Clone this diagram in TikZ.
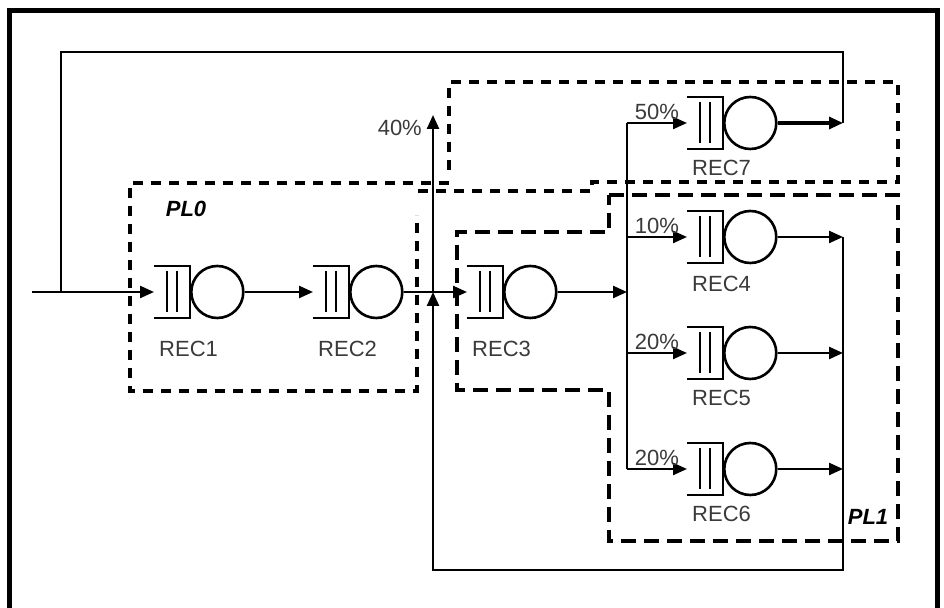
\documentclass[tikz,border=0pt]{standalone}
\usepackage{fontspec}
\setsansfont{Liberation Sans}
\usetikzlibrary{arrows.meta, positioning}
\definecolor{cgrey}{HTML}{3A3A3A}
\tikzset{
  every picture/.style={font=\sffamily\fontsize{11}{13}\selectfont, line width=1.2pt},
  queue/.style={minimum width=18pt, minimum height=26pt, inner sep=0pt, outer sep=0pt},
  server/.style={circle, draw, line width=1.3pt, minimum size=26pt, inner sep=0pt},
  arrow/.style={-{Triangle[length=7pt, width=6pt]}, line width=1.2pt},
  lbl/.style={text=cgrey, inner sep=1pt},
  pct/.style={text=cgrey, inner sep=1pt},
  plabel/.style={font=\sffamily\bfseries\itshape\fontsize{11}{13}\selectfont, inner sep=1pt},
  region/.style={line width=1.6pt, dash pattern=on 5pt off 4pt},
  regionlong/.style={line width=1.6pt, dash pattern=on 7.5pt off 4pt},
}

\begin{document}
\begin{tikzpicture}[x=0.5pt, y=-0.5pt]
  \useasboundingbox (0,0) rectangle (944,608);
  \draw[line width=2.5pt] (9,11) rectangle (937,640);
  % queues and servers
  \node[queue] (q1) at (172,292) {};
  \node[queue] (q2) at (331,292) {};
  \node[queue] (q3) at (485,292) {};
  \node[queue] (q7) at (705,123) {};
  \node[queue] (q4) at (705,237) {};
  \node[queue] (q5) at (705,353) {};
  \node[queue] (q6) at (705,469) {};
  \foreach \q in {q1,q2,q3,q4,q5,q6,q7} {
    \draw (\q.north west) -- (\q.north east) -- (\q.south east) -- (\q.south west);
    \draw ([xshift=6.5pt, yshift=-2.5pt]\q.north west) -- ([xshift=6.5pt, yshift=3pt]\q.south west);
    \draw ([xshift=11.5pt, yshift=-2.5pt]\q.north west) -- ([xshift=11.5pt, yshift=3pt]\q.south west);
  }
  \node[server, right=0pt of q1] (s1) {};
  \node[server, right=0pt of q2] (s2) {};
  \node[server, right=0pt of q3] (s3) {};
  \node[server, right=0pt of q7] (s7) {};
  \node[server, right=0pt of q4] (s4) {};
  \node[server, right=0pt of q5] (s5) {};
  \node[server, right=0pt of q6] (s6) {};
  % labels
  \node[lbl, below right=10pt and 1pt of q1.south west] (l1) {REC1};
  \node[lbl, below right=10pt and 1pt of q2.south west] (l2) {REC2};
  \node[lbl, below right=10pt and 1pt of q3.south west] (l3) {REC3};
  \node[lbl, below right=4pt and 1pt of q7.south west] (l7) {REC7};
  \node[lbl, below right=5pt and 1pt of q4.south west] (l4) {REC4};
  \node[lbl, below right=4pt and 1pt of q5.south west] (l5) {REC5};
  \node[lbl, below right=4pt and 1pt of q6.south west] (l6) {REC6};
  % junctions
  \coordinate (in) at (32,292);
  \coordinate (fb) at (61,292);
  \coordinate (top) at (61,52);
  \coordinate (j) at (433,292);
  \coordinate (out) at (433,115);
  \coordinate (low) at (433,570);
  \coordinate (fork) at (627,292);
  \coordinate (bus) at (843,292);
  % connectors
  \draw[arrow] (in) -- (q1);
  \draw (fb) -- (top) -| (s7 -| bus);
  \draw[arrow] (s1) -- (q2);
  \draw[arrow] (s2) -- (q3);
  \draw[arrow] (j) -- (out);
  \node[pct, anchor=east] (p40) at ([xshift=-4pt, yshift=-6.5pt]out) {40\%};
  \draw[arrow] (s3) -- (fork);
  \draw (fork |- q7) -- (fork |- q6);
  \draw[arrow] (fork |- q7) -- node[pct, above] (p50) {50\%} (q7);
  \draw[arrow] (fork |- q4) -- node[pct, above] (p10) {10\%} (q4);
  \draw[arrow] (fork |- q5) -- node[pct, above] (p20a) {20\%} (q5);
  \draw[arrow] (fork |- q6) -- node[pct, above] (p20b) {20\%} (q6);
  \draw[arrow, line width=1.6pt] (s7) -- (s7 -| bus);
  \draw[arrow] (s4) -- (s4 -| bus);
  \draw[arrow] (s5) -- (s5 -| bus);
  \draw[arrow] (s6) -- (s6 -| bus);
  \draw[arrow] (s4 -| bus) -- (bus |- low) -- (low) -- (j);
  % regions
  \draw[region] (449,183) -- (130,183) -- (130,391) -- (417,391) -- (417,215);
  \draw[region] (418,191) -- (592,191) -- (592,182) -- (898,182) -- (898,82) -- (449,82) -- (449,174);
  \draw[regionlong] (609,195) -- (898,195) -- (898,541) -- (609,541) -- (609,390)
    -- (457,390) -- (457,232) -- (609,232) -- cycle;
  \node[plabel] (pl0) at (186,209) {PL0};
  \node[plabel] (pl1) at (868,517) {PL1};
\end{tikzpicture}
\end{document}
